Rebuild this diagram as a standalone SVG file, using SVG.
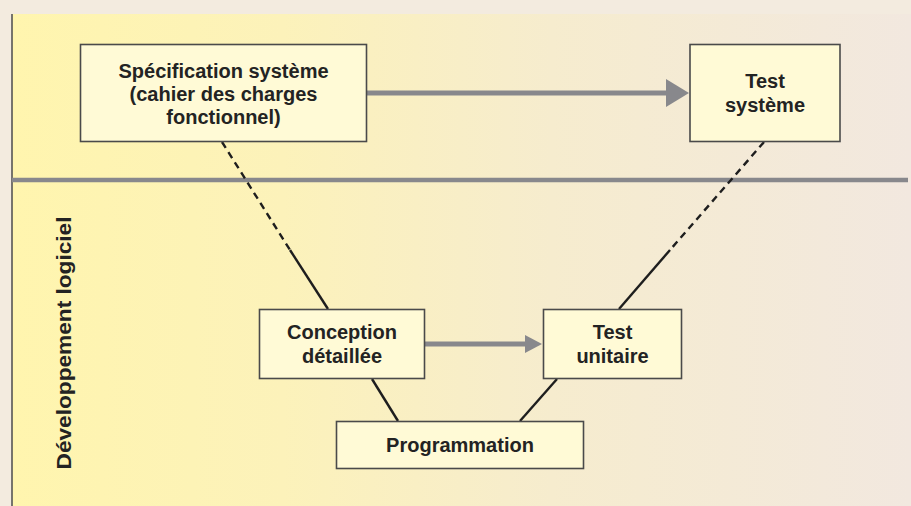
<svg xmlns="http://www.w3.org/2000/svg" width="911" height="506" viewBox="0 0 911 506">
<defs>
<linearGradient id="bg" x1="12" y1="0" x2="911" y2="0" gradientUnits="userSpaceOnUse">
<stop offset="0" stop-color="#fff5ae"/>
<stop offset="0.3" stop-color="#fcf2ba"/>
<stop offset="0.6" stop-color="#f6ecce"/>
<stop offset="1" stop-color="#f2e8df"/>
</linearGradient>
<marker id="ahBig" markerUnits="userSpaceOnUse" markerWidth="24" markerHeight="28" refX="0" refY="14" orient="auto">
<path d="M0,0 L23,14 L0,28 Z" fill="#88888c"/>
</marker>
<marker id="ahSmall" markerUnits="userSpaceOnUse" markerWidth="18" markerHeight="18" refX="0" refY="9" orient="auto">
<path d="M0,0 L17,9 L0,18 Z" fill="#88888c"/>
</marker>
</defs>
<style>
.box{fill:#fffad6;stroke:#4a4a4a;stroke-width:1.6}
.t{font-family:"Liberation Sans",Arial,sans-serif;font-weight:bold;font-size:20px;fill:#232323;text-anchor:middle}
.ln{stroke:#1e1e1e;stroke-width:2.4;fill:none}
.dash{stroke-dasharray:7,5}
.arr{stroke:#88888c;stroke-width:5;fill:none}
</style>
<rect x="0" y="0" width="911" height="506" fill="#f3ebdf"/>
<rect x="12" y="14" width="899" height="492" fill="url(#bg)"/>
<line x1="12" y1="14" x2="12" y2="506" stroke="#555" stroke-width="1.6"/>
<line x1="12" y1="180" x2="908" y2="180" stroke="#88888c" stroke-width="4.5"/>
<text class="t" transform="translate(71,343) rotate(-90)" textLength="253" lengthAdjust="spacingAndGlyphs">Développement logiciel</text>
<g id="connectors">
<line class="ln dash" x1="222" y1="142" x2="290" y2="250"/>
<line class="ln" x1="290" y1="250" x2="328" y2="309"/>
<line class="ln" x1="372" y1="379" x2="398" y2="421"/>
<line class="ln dash" x1="764" y1="142" x2="670" y2="250"/>
<line class="ln" x1="670" y1="250" x2="619" y2="309"/>
<line class="ln" x1="557" y1="379" x2="520" y2="421"/>
<line class="arr" x1="367" y1="93" x2="666" y2="93" marker-end="url(#ahBig)"/>
<line class="arr" x1="425" y1="344" x2="525" y2="344" marker-end="url(#ahSmall)"/>
</g>
<g id="spec">
<rect class="box" x="80.5" y="44.5" width="286" height="97"/>
<text class="t" x="223.5" y="78">Spécification système</text>
<text class="t" x="223.5" y="101">(cahier des charges</text>
<text class="t" x="223.5" y="124">fonctionnel)</text>
</g>
<g id="testsys">
<rect class="box" x="690" y="44.5" width="150" height="97"/>
<text class="t" x="765" y="88">Test</text>
<text class="t" x="765" y="112">système</text>
</g>
<g id="conception">
<rect class="box" x="259.5" y="309.5" width="165" height="69"/>
<text class="t" x="342" y="339">Conception</text>
<text class="t" x="342" y="363">détaillée</text>
</g>
<g id="testunit">
<rect class="box" x="543.5" y="309.5" width="138" height="69"/>
<text class="t" x="612.5" y="339">Test</text>
<text class="t" x="612.5" y="363">unitaire</text>
</g>
<g id="prog">
<rect class="box" x="336.5" y="421.5" width="247" height="47"/>
<text class="t" x="460" y="452">Programmation</text>
</g>
</svg>
